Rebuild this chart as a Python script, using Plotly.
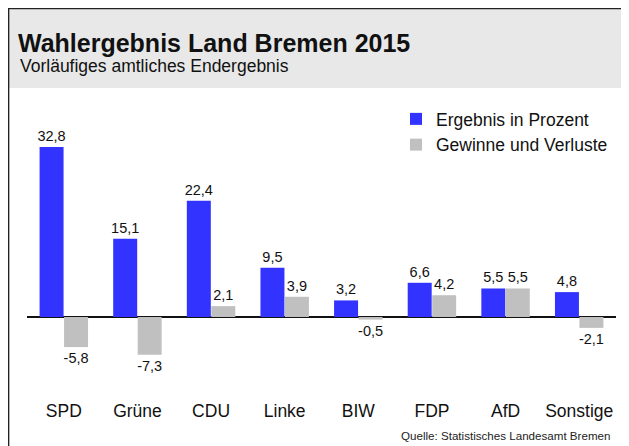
import plotly.graph_objects as go

parteien = ["SPD", "Grüne", "CDU", "Linke", "BIW", "FDP", "AfD", "Sonstige"]
ergebnis = [32.8, 15.1, 22.4, 9.5, 3.2, 6.6, 5.5, 4.8]
gewinne = [-5.8, -7.3, 2.1, 3.9, -0.5, 4.2, 5.5, -2.1]

FONT = "Liberation Sans, Arial, Helvetica, sans-serif"
OFF = 8  # page body margin
W, H = 629 - OFF, 446 - OFF
PLOT_L, PLOT_R, PLOT_T, PLOT_B = 27, 616, 110, 395   # in window pixels
ZERO_Y, PX_PER_UNIT = 317, 5.185
L, R, T, B = PLOT_L - OFF, 629 - PLOT_R, PLOT_T - OFF, 446 - PLOT_B
PW, PH = W - L - R, H - T - B


def fmt(v):
    return f"{v:.1f}".replace(".", ",")


def px(xw):
    return (xw - PLOT_L) / PW


def py(yw):
    return (PLOT_B - yw) / PH


fig = go.Figure()
fig.add_trace(go.Bar(
    x=parteien, y=ergebnis, name="Ergebnis in Prozent",
    marker=dict(color="#3333ff", line=dict(width=0)),
    text=[fmt(v) for v in ergebnis], texttemplate="%{text}",
    textposition="outside", constraintext="none", cliponaxis=False,
    textfont=dict(size=14.5, color="#111111", family=FONT),
))
fig.add_trace(go.Bar(
    x=parteien, y=gewinne, name="Gewinne und Verluste",
    marker=dict(color="#c0c0c0", line=dict(width=0)),
    text=[fmt(v) for v in gewinne], texttemplate="%{text}",
    textposition="outside", constraintext="none", cliponaxis=False,
    textfont=dict(size=14.5, color="#111111", family=FONT),
))

fig.update_layout(
    width=W, height=H,
    margin=dict(l=L, r=R, t=T, b=B, pad=0),
    paper_bgcolor="white", plot_bgcolor="white",
    font=dict(family=FONT, color="#111111"),
    separators=",.",
    barmode="group", bargap=0.335, bargroupgap=0.02,
    showlegend=True,
    legend=dict(
        x=px(396), y=py(101), xanchor="left", yanchor="top",
        font=dict(size=17.5, color="#111111", family=FONT),
        bgcolor="rgba(0,0,0,0)", tracegroupgap=0,
    ),
    title=dict(
        text="<b>Wahlergebnis Land Bremen 2015</b>",
        x=(18 - OFF) / W, xref="container", xanchor="left",
        y=1 - (43 - OFF) / H, yref="container", yanchor="middle",
        font=dict(size=25, color="#111111", family=FONT),
    ),
    xaxis=dict(
        showline=False, showgrid=False, ticks="", zeroline=False,
        tickfont=dict(size=17.5, color="#111111", family=FONT),
        range=[-0.5, 7.5], ticklabelstandoff=3,
    ),
    yaxis=dict(
        range=[-(PLOT_B - ZERO_Y) / PX_PER_UNIT, (ZERO_Y - PLOT_T) / PX_PER_UNIT],
        showgrid=False, showticklabels=False, ticks="", showline=False,
        zeroline=True, zerolinecolor="#111111", zerolinewidth=1.5,
    ),
    shapes=[
        dict(type="rect", xref="paper", yref="paper",
             x0=px(8), x1=px(632), y0=py(88), y1=py(7),
             fillcolor="#e8e8e8", line=dict(width=0), layer="below"),
        dict(type="line", xref="paper", yref="paper",
             x0=px(8), x1=px(632), y0=py(8.6), y1=py(8.6),
             line=dict(color="#222222", width=1.5)),
        dict(type="line", xref="paper", yref="paper",
             x0=px(8.6), x1=px(8.6), y0=py(8), y1=py(450),
             line=dict(color="#222222", width=1.5)),
    ],
    annotations=[
        dict(text="Vorläufiges amtliches Endergebnis", xref="paper", yref="paper",
             x=px(18), y=py(66.5), xanchor="left", yanchor="middle", showarrow=False,
             font=dict(size=17.5, color="#111111", family=FONT)),
        dict(text="Quelle: Statistisches Landesamt Bremen", xref="paper", yref="paper",
             x=px(612), y=py(435), xanchor="right", yanchor="middle", showarrow=False,
             font=dict(size=11.6, color="#222222", family=FONT)),
    ],
)

fig.write_html("out.html")
